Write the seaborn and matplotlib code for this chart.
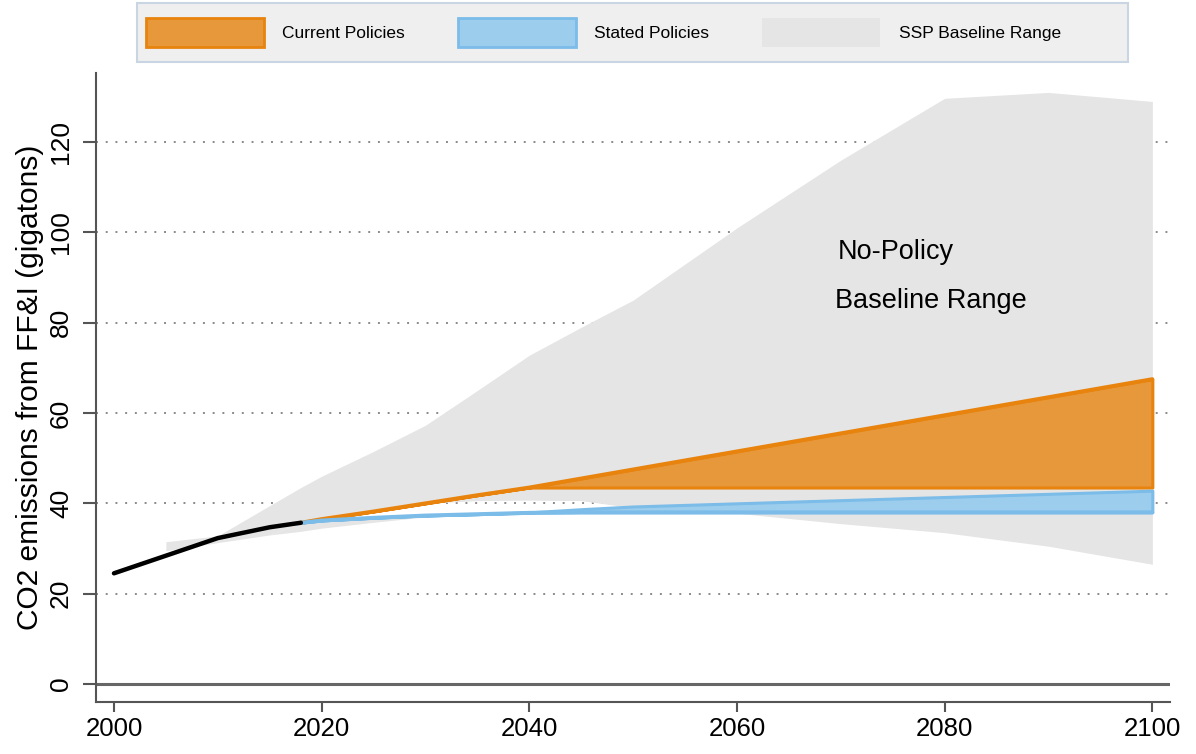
import numpy as np
import matplotlib
matplotlib.use("Agg")
import matplotlib.pyplot as plt
from matplotlib.patches import Patch, Rectangle
import seaborn as sns

# ==============================
# Data
# ==============================
hist_years = [2000, 2005, 2010, 2015, 2018]
hist_emissions = [24.5, 28.4, 32.3, 34.7, 35.7]

years_ssp = [2005, 2010, 2015, 2018, 2020, 2025, 2030, 2035, 2040, 2045,
             2050, 2055, 2060, 2070, 2080, 2090, 2100]
ssp_high = [31.5, 32.8, 39.5, 43.5, 46.0, 51.5, 57.3, 65.0, 72.8, 79.0,
            85.0, 93.0, 101.0, 116.0, 129.7, 131.0, 129.0]
ssp_low = [29.5, 31.3, 33.0, 33.8, 34.5, 35.8, 37.0, 37.6, 37.9, 38.1,
           38.2, 38.2, 37.8, 35.5, 33.5, 30.5, 26.5]
# white gap inside the SSP range (between the two policy paths)
gap_low = [29.5, 31.3, 33.0, 35.7, 36.2, 36.8, 37.3, 37.6, 37.9, 38.1,
           38.3, 38.2, 37.8, 35.5, 33.5, 30.5, 26.5]
gap_high = [29.5, 31.3, 33.0, 35.7, 36.5, 38.2, 40.0, 40.6, 40.7, 40.6,
            39.0, 38.2, 37.8, 35.5, 33.5, 30.5, 26.5]

years_policy = [2018, 2020, 2025, 2030, 2035, 2040, 2045, 2050, 2060,
                2070, 2080, 2090, 2100]
current_low = [35.7, 36.5, 38.2, 40.0, 41.8, 43.5, 43.5, 43.5, 43.5,
               43.5, 43.5, 43.5, 43.5]
current_high = [35.7, 36.5, 38.2, 40.0, 41.8, 43.5, 45.5, 47.5, 51.5,
                55.5, 59.5, 63.5, 67.5]
stated_low = [35.7, 36.2, 36.8, 37.3, 37.6, 37.9, 38.0, 38.0, 38.0,
              38.0, 38.0, 38.0, 38.0]
stated_high = [35.7, 36.2, 36.8, 37.3, 37.6, 38.0, 38.7, 39.3, 40.0,
               40.7, 41.4, 42.1, 42.8]

y_ticks = [0, 20, 40, 60, 80, 100, 120]
x_ticks = [2000, 2020, 2040, 2060, 2080, 2100]
legend_labels = ["Current Policies", "Stated Policies", "SSP Baseline Range"]

# colours
ORANGE_FILL = "#E6983A"
ORANGE_EDGE = "#E8830E"
BLUE_FILL = "#9DCDEC"
BLUE_EDGE = "#7BBCE9"
GRAY_FILL = "#E5E5E5"
AXIS_GRAY = "#555555"

# ==============================
# Plot
# ==============================
sns.set_style("white")
plt.rcParams['font.family'] = ['Liberation Sans', 'DejaVu Sans']
plt.rcParams['text.color'] = 'black'
plt.rcParams['axes.labelcolor'] = 'black'

fig = plt.figure(figsize=(11.96, 7.54), dpi=100)
ax = fig.add_axes([96 / 1196, 1 - 702 / 754, (1170 - 96) / 1196, (702 - 73) / 754])

# dotted grid + solid zero line
for yt in y_ticks[1:]:
    ax.axhline(yt, color="#8a8a8a", lw=1.4, ls=(0, (1, 4)), zorder=0)
ax.axhline(0, color="#666666", lw=2.2, zorder=1)

# SSP baseline range (with the white gap between policy paths)
ax.fill_between(years_ssp, gap_high, ssp_high, color=GRAY_FILL, lw=0, zorder=2)
ax.fill_between(years_ssp, ssp_low, gap_low, color=GRAY_FILL, lw=0, zorder=2)

# policy bands
ax.fill_between(years_policy, current_low, current_high, facecolor=ORANGE_FILL,
                edgecolor=ORANGE_EDGE, lw=2.2, zorder=3)
ax.fill_between(years_policy, stated_low, stated_high, facecolor=BLUE_FILL,
                edgecolor=BLUE_EDGE, lw=2.2, zorder=3)
sns.lineplot(x=years_policy, y=current_high, color=ORANGE_EDGE, lw=2.8, ax=ax, zorder=4)
sns.lineplot(x=years_policy, y=stated_low, color=BLUE_EDGE, lw=2.8, ax=ax, zorder=4)

# historical emissions
sns.lineplot(x=hist_years, y=hist_emissions, color="black", lw=3.2, ax=ax, zorder=5)

ax.text(2069.7, 95.6, "No-Policy", fontsize=19.5, va="center", ha="left", zorder=6)
ax.text(2069.4, 84.9, "Baseline Range", fontsize=19.5, va="center", ha="left", zorder=6)

# axes styling
ax.set_xlim(1998.27, 2101.7)
ax.set_ylim(-4, 135.3)
ax.set_xticks(x_ticks)
ax.set_yticks(y_ticks)
ax.set_yticklabels([str(v) for v in y_ticks], rotation=90, va="center")
ax.tick_params(axis="y", direction="out", length=9.5, width=1.5, color=AXIS_GRAY,
               labelsize=19, pad=7, left=True, labelcolor="black")
ax.tick_params(axis="x", direction="out", length=7, width=1.5, color=AXIS_GRAY,
               labelsize=18.5, pad=4, bottom=True, labelcolor="black")
ax.set_ylabel("CO2 emissions from FF&I (gigatons)", fontsize=21.5, labelpad=4)
ax.grid(False)

for side in ["top", "right"]:
    ax.spines[side].set_visible(False)
for side in ["left", "bottom"]:
    ax.spines[side].set_color(AXIS_GRAY)
    ax.spines[side].set_linewidth(1.5)

# legend box across the top
fig.patches.append(Rectangle((137 / 1196, 1 - 62 / 754), (1128 - 137) / 1196, 59 / 754,
                             transform=fig.transFigure, facecolor="#EFEFEF",
                             edgecolor="#C9D5E3", lw=1.5, zorder=0))
handles = [
    Patch(facecolor=ORANGE_FILL, edgecolor=ORANGE_EDGE, lw=2),
    Patch(facecolor=BLUE_FILL, edgecolor=BLUE_EDGE, lw=2),
    Patch(facecolor=GRAY_FILL, edgecolor=GRAY_FILL, lw=0),
]
leg = fig.legend(handles, legend_labels, ncol=3, loc="center left",
                 bbox_to_anchor=(146 / 1196, 1 - 32.5 / 754),
                 borderaxespad=0, borderpad=0, fontsize=12.5,
                 handlelength=6.8, handleheight=2.2, handletextpad=1.05,
                 columnspacing=3.05, frameon=False)

fig.savefig("out.png", dpi=100, facecolor="white")
